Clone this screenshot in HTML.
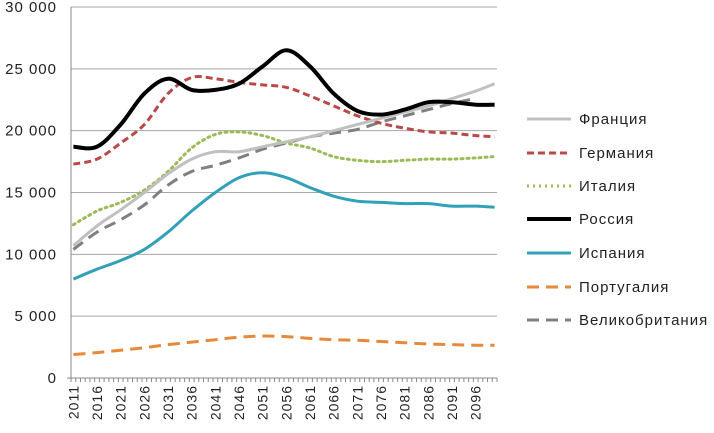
<!DOCTYPE html>
<html><head><meta charset="utf-8"><style>
body{margin:0;background:#fff;}
svg{display:block;font-family:"Liberation Sans",sans-serif;}
</style></head><body>
<svg id="c" width="714" height="433"></svg>
<script>
const years=[2011,2016,2021,2026,2031,2036,2041,2046,2051,2056,2061,2066,2071,2076,2081,2086,2091,2096,2100];
const yTicks=[0,5000,10000,15000,20000,25000,30000];
const yTickLabels=["0","5 000","10 000","15 000","20 000","25 000","30 000"];
const france=[10700,12300,13600,15000,16500,17700,18300,18300,18700,19100,19500,20000,20500,21000,21500,22000,22600,23200,23800];
const germany=[17300,17700,19000,20500,23000,24300,24200,23900,23700,23500,22800,22000,21200,20600,20200,19900,19800,19600,19500];
const italy=[12400,13500,14200,15200,16700,18600,19700,19900,19600,19000,18600,17900,17600,17500,17600,17700,17700,17800,17900];
const russia=[18700,18700,20500,23000,24200,23300,23300,23800,25200,26500,25200,23000,21600,21300,21700,22300,22300,22100,22100];
const spain=[8000,8800,9500,10400,11800,13500,15000,16200,16600,16200,15400,14700,14300,14200,14100,14100,13900,13900,13800];
const portugal=[1900,2050,2250,2450,2700,2900,3100,3300,3400,3350,3200,3100,3050,2950,2850,2750,2700,2650,2650];
const uk=[10400,11800,12800,14000,15600,16700,17200,17800,18500,19000,19500,19800,20100,20700,21200,21700,22200,22600,null];
const seriesNames=["Франция","Германия","Италия","Россия","Испания","Португалия","Великобритания"];

const NS="http://www.w3.org/2000/svg";
const svg=document.getElementById('c');
const X0=71,X1=497,Y0=378,Y30=7;
const bw=(X1-X0)/90;
const xs=yr=>X0+(yr-2011+0.5)*bw;
const ys=v=>Y0-(v/30000)*(Y0-Y30);
function mk(t,a){const e=document.createElementNS(NS,t);for(const k in a)e.setAttribute(k,a[k]);svg.appendChild(e);return e;}
function smooth(p){
  if(p.length<2)return '';
  let d='M'+p[0][0].toFixed(1)+','+p[0][1].toFixed(1);
  for(let i=0;i<p.length-1;i++){
    const a=p[i-1]||p[i],b=p[i],c=p[i+1],e=p[i+2]||c;
    const c1=[b[0]+(c[0]-a[0])/6,b[1]+(c[1]-a[1])/6];
    const c2=[c[0]-(e[0]-b[0])/6,c[1]-(e[1]-b[1])/6];
    d+=` C${c1[0].toFixed(1)},${c1[1].toFixed(1)} ${c2[0].toFixed(1)},${c2[1].toFixed(1)} ${c[0].toFixed(1)},${c[1].toFixed(1)}`;
  }
  return d;
}

yTicks.forEach((v,i)=>{
  if(v>0){const g=mk('line',{x1:X0,x2:X1,y1:ys(v),y2:ys(v),stroke:'#a6a6a6','stroke-width':1});
  
  }
  const t=mk('text',{x:57,y:ys(v)+5,'text-anchor':'end','font-size':15,'letter-spacing':1,fill:'#222'});
  t.textContent=yTickLabels[i];
  
  
});
const ya=mk('line',{x1:X0,x2:X0,y1:Y30,y2:Y0+4,stroke:'#888','stroke-width':1});


const xa=mk('line',{x1:X0-4,x2:X1,y1:Y0,y2:Y0,stroke:'#888','stroke-width':1});


for(let i=0;i<=90;i++){const tk=mk('line',{x1:X0+i*bw,x2:X0+i*bw,y1:Y0,y2:Y0+4,stroke:'#888','stroke-width':1});

}
for(let yr=2011;yr<=2096;yr+=5){
  const x=xs(yr)+5;
  const t=mk('text',{x:x,y:385,transform:`rotate(-90 ${x} 385)`,'text-anchor':'end','font-size':14,'letter-spacing':1,fill:'#222'});
  t.textContent=yr;
  
  
}
const styles=[
 {d:france,c:'#c0c0c0',w:3,da:''},
 {d:germany,c:'#b94a48',w:3,da:'7 4'},
 {d:italy,c:'#9bbb59',w:3,da:'2 4'},
 {d:russia,c:'#000',w:4,da:''},
 {d:spain,c:'#31a0b8',w:3,da:''},
 {d:portugal,c:'#e6893a',w:3,da:'12 7'},
 {d:uk,c:'#808080',w:3,da:'12 7'}];
const legY=[119,153,186,219,253,287,320];
const order=[6,5,4,2,1,0,3];
order.forEach(i=>{
  const s=styles[i];let pts=[];
  years.forEach((yr,j)=>{if(s.d[j]!=null)pts.push([xs(yr),ys(s.d[j])]);});
  const p=mk('path',{d:smooth(pts),fill:'none',stroke:s.c,'stroke-width':s.w,'stroke-dasharray':s.da,'stroke-linejoin':'round','stroke-linecap':s.da.startsWith('2')?'round':'butt'});
  
  
});
styles.forEach((s,i)=>{
  const l=mk('line',{x1:527,x2:571,y1:legY[i],y2:legY[i],stroke:s.c,'stroke-width':s.w,'stroke-dasharray':s.da});
  
  
  const t=mk('text',{x:579,y:legY[i]+5,'font-size':15,'letter-spacing':1,fill:'#222'});
  t.textContent=seriesNames[i];
  
  
});
</script>
</body></html>
